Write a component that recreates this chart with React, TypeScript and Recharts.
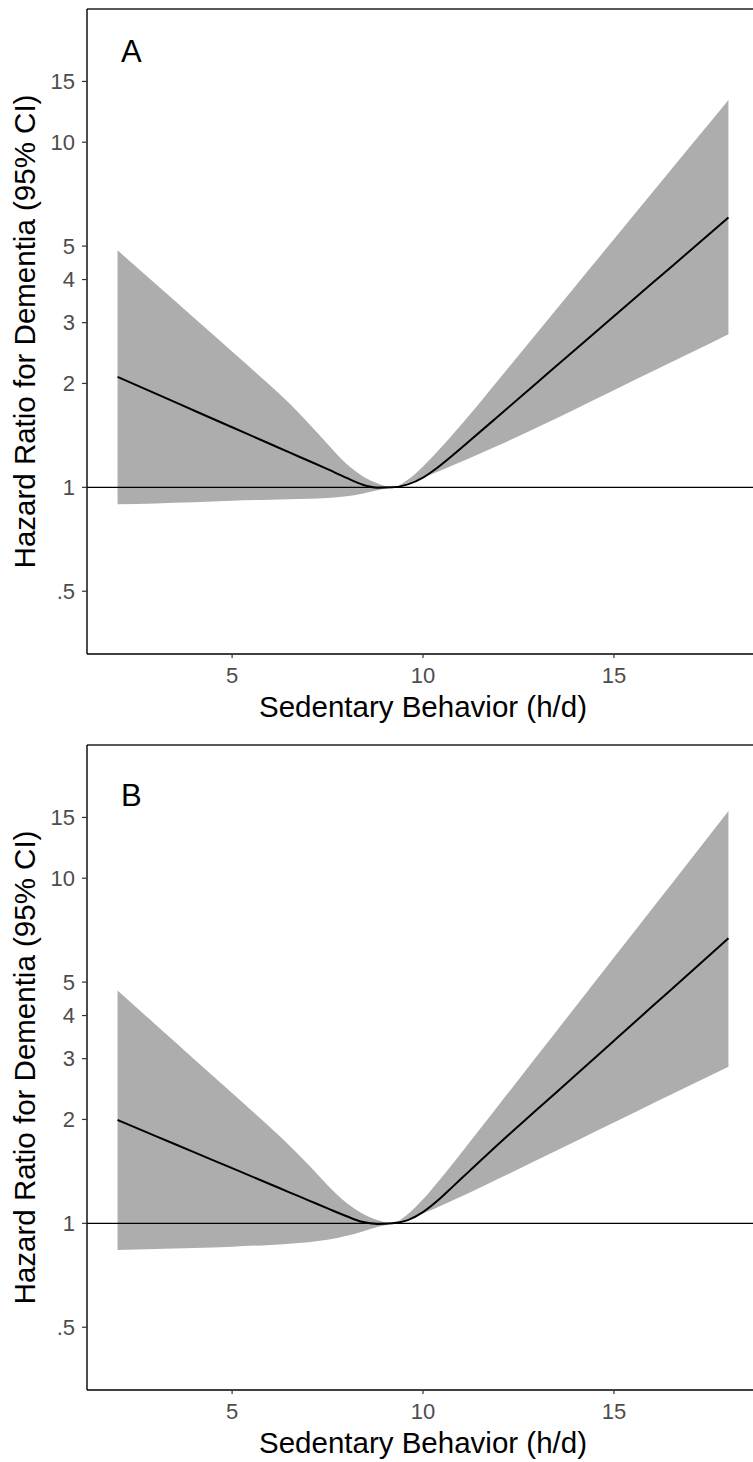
import React from "react";
import {
  ComposedChart,
  Area,
  Line,
  XAxis,
  YAxis,
  ReferenceLine,
} from "recharts";

// Sedentary behavior (h/d)
const hours = [2, 3, 4, 5, 6, 6.5, 7, 7.5, 8, 8.4, 8.8, 9.2, 9.6, 10, 10.4, 10.8, 11.2, 12, 13, 14, 15, 16, 17, 18];

// Panel A: hazard ratio and 95% CI
const hrA = [2.09, 1.868, 1.67, 1.493, 1.335, 1.262, 1.194, 1.129, 1.065, 1.02, 0.998, 1.0, 1.02, 1.067, 1.145, 1.244, 1.357, 1.618, 2.016, 2.512, 3.13, 3.9, 4.855, 6.05];
const upperA = [4.86, 3.881, 3.099, 2.474, 1.972, 1.751, 1.534, 1.336, 1.168, 1.081, 1.027, 1.0, 1.051, 1.15, 1.278, 1.433, 1.613, 2.065, 2.815, 3.838, 5.233, 7.135, 9.728, 13.26];
const lowerA = [0.893, 0.898, 0.905, 0.914, 0.921, 0.924, 0.927, 0.931, 0.942, 0.958, 0.98, 1.0, 1.03, 1.068, 1.112, 1.16, 1.212, 1.326, 1.493, 1.687, 1.91, 2.164, 2.452, 2.779];

// Panel B: hazard ratio and 95% CI
const hrB = [1.992, 1.79, 1.608, 1.445, 1.298, 1.23, 1.166, 1.105, 1.048, 1.01, 0.996, 1.0, 1.022, 1.078, 1.168, 1.284, 1.412, 1.706, 2.143, 2.691, 3.38, 4.246, 5.333, 6.699];
const upperB = [4.726, 3.762, 2.995, 2.385, 1.895, 1.682, 1.477, 1.29, 1.145, 1.07, 1.022, 1.0, 1.062, 1.174, 1.323, 1.499, 1.706, 2.214, 3.068, 4.25, 5.888, 8.158, 11.3, 15.66];
const lowerB = [0.837, 0.842, 0.848, 0.856, 0.866, 0.873, 0.882, 0.896, 0.92, 0.946, 0.975, 1.0, 1.03, 1.07, 1.116, 1.168, 1.224, 1.35, 1.528, 1.73, 1.958, 2.219, 2.512, 2.843];

const xTicks = [5, 10, 15];
const yTicks = [0.5, 1, 2, 3, 4, 5, 10, 15];
const xDomain = [1.2, 18.8];
const yDomain = [0.3289, 24.32];
const xTitle = "Sedentary Behavior (h/d)";
const yTitle = "Hazard Ratio for Dementia (95% CI)";

const FONT = "'Liberation Sans', Arial, Helvetica, sans-serif";
const W = 770;
const H = 736;

function buildData(hr: number[], lo: number[], up: number[]) {
  return hours.map((x, i) => ({ x, hr: hr[i], range: [lo[i], up[i]] }));
}

function Panel({
  letter,
  letterY,
  hr,
  lo,
  up,
}: {
  letter: string;
  letterY: number;
  hr: number[];
  lo: number[];
  up: number[];
}) {
  const data = buildData(hr, lo, up);
  return (
    <div style={{ position: "relative", width: W, height: H }}>
      <ComposedChart
        width={W}
        height={H}
        data={data}
        margin={{ top: 9, right: 11, bottom: 0, left: 0 }}
        style={{ fontFamily: FONT }}
      >
        <XAxis
          dataKey="x"
          type="number"
          domain={xDomain}
          ticks={xTicks}
          interval={0}
          height={82}
          tickSize={4}
          tickMargin={9}
          axisLine={{ stroke: "#000", strokeWidth: 1.4 }}
          tickLine={{ stroke: "#333", strokeWidth: 1.2 }}
          tick={{ fill: "#4d4d4d", fontSize: 22, fontFamily: FONT }}
          allowDataOverflow
        />
        <YAxis
          scale="log"
          type="number"
          domain={yDomain}
          allowDataOverflow
          ticks={yTicks}
          interval={0}
          width={87}
          tickSize={5}
          tickMargin={7}
          axisLine={{ stroke: "#000", strokeWidth: 1.4 }}
          tickLine={{ stroke: "#333", strokeWidth: 1.2 }}
          tick={{ fill: "#4d4d4d", fontSize: 22, fontFamily: FONT }}
          tickFormatter={(v: number) => (v === 0.5 ? ".5" : String(v))}
        />
        <ReferenceLine y={yDomain[1]} stroke="#222" strokeWidth={1.3} ifOverflow="visible" />
        <Area
          dataKey="range"
          type="monotone"
          fill="#adadad"
          fillOpacity={1}
          stroke="none"
          isAnimationActive={false}
        />
        <ReferenceLine y={1} stroke="#000" strokeWidth={1.3} />
        <Line
          dataKey="hr"
          type="monotone"
          stroke="#000"
          strokeWidth={2}
          dot={false}
          activeDot={false}
          isAnimationActive={false}
        />
      </ComposedChart>
      <svg
        width={W}
        height={H}
        style={{ position: "absolute", left: 0, top: 0, pointerEvents: "none" }}
      >
        <text
          x={121}
          y={letterY}
          fontSize={31}
          fontFamily={FONT}
          fill="#000"
          textAnchor="start"
        >
          {letter}
        </text>
        <text
          x={423}
          y={717}
          fontSize={29.5}
          fontFamily={FONT}
          fill="#000"
          textAnchor="middle"
        >
          {xTitle}
        </text>
        <text
          x={35}
          y={331.5}
          fontSize={29.5}
          fontFamily={FONT}
          fill="#000"
          textAnchor="middle"
          transform="rotate(-90 35 331.5)"
        >
          {yTitle}
        </text>
      </svg>
    </div>
  );
}

export default function App() {
  return (
    <div
      style={{
        position: "absolute",
        left: 0,
        top: 0,
        width: 753,
        height: 1462,
        overflow: "hidden",
        background: "#fff",
      }}
    >
      <div style={{ position: "absolute", left: 0, top: 0 }}>
        <Panel letter="A" letterY={62} hr={hrA} lo={lowerA} up={upperA} />
      </div>
      <div style={{ position: "absolute", left: 0, top: 736 }}>
        <Panel letter="B" letterY={70} hr={hrB} lo={lowerB} up={upperB} />
      </div>
    </div>
  );
}
